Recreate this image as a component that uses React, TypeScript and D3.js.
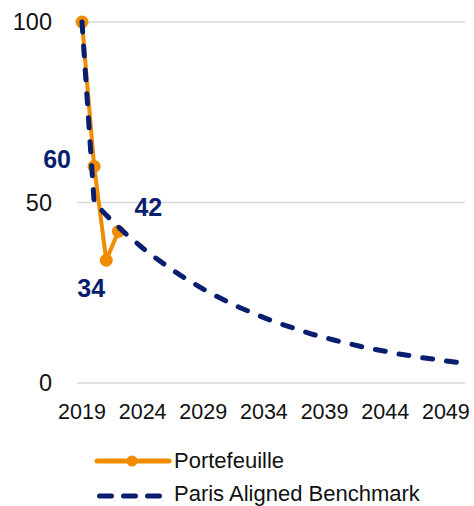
import React from "react";
import * as d3 from "d3";

const years = d3.range(2019, 2051);
const portfolioYears = [2019, 2020, 2021, 2022];
const portfolioValues = [100, 60, 34, 42];
const benchmarkValues = [
  100, 50.0, 46.5, 43.2, 40.2, 37.4, 34.8, 32.4, 30.1, 28.0, 26.0, 24.2, 22.5,
  20.9, 19.5, 18.1, 16.8, 15.7, 14.6, 13.5, 12.6, 11.7, 10.9, 10.1, 9.4, 8.8,
  8.1, 7.6, 7.0, 6.6, 6.1, 5.7,
];
const yTicks = [0, 50, 100];
const xTickLabels = [2019, 2024, 2029, 2034, 2039, 2044, 2049];
const labelledPoints = [
  { year: 2020, value: 60, dx: -37, dy: -7 },
  { year: 2021, value: 34, dx: -15, dy: 28 },
  { year: 2022, value: 42, dx: 30, dy: -24 },
];
const seriesNames = ["Portefeuille", "Paris Aligned Benchmark"];

const ORANGE = "#F08C00";
const NAVY = "#0A1E70";
const FONT = "'Liberation Sans', Arial, Helvetica, sans-serif";

export default function App() {
  const W = 474;
  const H = 506;
  const x = d3.scalePoint<number>().domain(years).range([82, 458]);
  const y = d3.scaleLinear().domain([0, 100]).range([383, 22]);

  const bench = years.map((yr, i) => ({ yr, v: benchmarkValues[i] }));
  const port = portfolioYears.map((yr, i) => ({ yr, v: portfolioValues[i] }));

  const line = d3
    .line<{ yr: number; v: number }>()
    .x((d) => x(d.yr) as number)
    .y((d) => y(d.v));

  return (
    <svg
      width={W}
      height={H}
      style={{ position: "absolute", left: 0, top: 0, background: "#fff" }}
      fontFamily={FONT}
    >
      {yTicks.map((t) => (
        <g key={t}>
          <line x1={77} x2={465} y1={y(t)} y2={y(t)} stroke="#d9d9d9" strokeWidth={1.5} />
          <text x={52} y={y(t)} dy="0.36em" textAnchor="end" fontSize={23.5} fill="#111">
            {t}
          </text>
        </g>
      ))}
      {xTickLabels.map((t) => (
        <text key={t} x={x(t) as number} y={419} textAnchor="middle" fontSize={21.5} fill="#111">
          {t}
        </text>
      ))}

      <path d={line(port) || ""} fill="none" stroke={ORANGE} strokeWidth={4} strokeLinejoin="round" />
      {port.map((d) => (
        <circle key={d.yr} cx={x(d.yr) as number} cy={y(d.v)} r={6.5} fill={ORANGE} />
      ))}
      <path
        d={line(bench) || ""}
        fill="none"
        stroke={NAVY}
        strokeWidth={5}
        strokeDasharray="10 14"
        strokeLinecap="round"
        strokeLinejoin="round"
      />

      {labelledPoints.map((p) => (
        <text
          key={p.year}
          x={(x(p.year) as number) + p.dx}
          y={y(p.value) + p.dy}
          dy="0.36em"
          textAnchor="middle"
          fontSize={25}
          fontWeight="bold"
          fill={NAVY}
        >
          {p.value}
        </text>
      ))}

      {/* legend */}
      <g>
        <line x1={97} x2={169} y1={461} y2={461} stroke={ORANGE} strokeWidth={5} strokeLinecap="round" />
        <circle cx={132} cy={461} r={5.5} fill={ORANGE} />
        <text x={174} y={468} fontSize={22} fill="#111">
          {seriesNames[0]}
        </text>
        <line
          x1={99.5}
          x2={162}
          y1={496}
          y2={496}
          stroke={NAVY}
          strokeWidth={5}
          strokeDasharray="12 12"
          strokeLinecap="round"
        />
        <text x={174} y={501} fontSize={22} fill="#111">
          {seriesNames[1]}
        </text>
      </g>
    </svg>
  );
}
